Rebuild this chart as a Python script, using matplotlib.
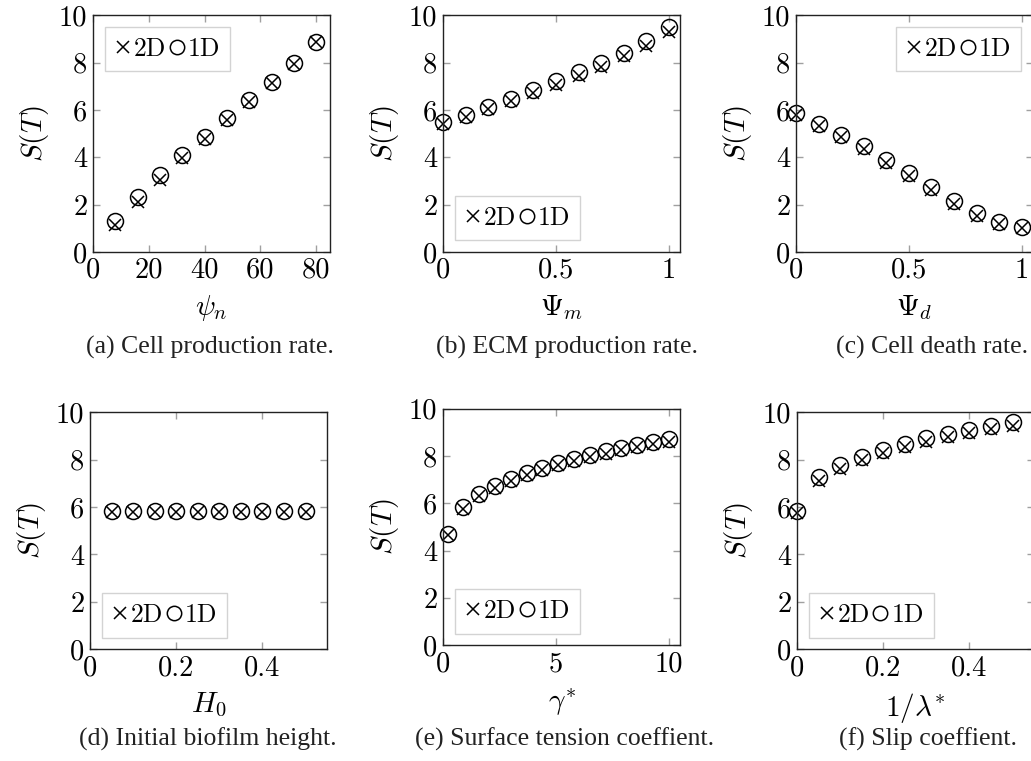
import numpy as np
import matplotlib
matplotlib.use("Agg")
import matplotlib.pyplot as plt

plt.rcParams["font.family"] = "cmr10"
plt.rcParams["mathtext.fontset"] = "cm"
plt.rcParams["axes.formatter.use_mathtext"] = True

# (a) cell production rate
psi_n = [8, 16, 24, 32, 40, 48, 56, 64, 72, 80]
a_1d = [1.29, 2.30, 3.23, 4.10, 4.87, 5.65, 6.42, 7.17, 7.98, 8.85]
a_2d = [1.12, 2.10, 3.05, 3.97, 4.77, 5.56, 6.35, 7.12, 7.96, 8.86]

# (b) ECM production rate
psi_m = [0, 0.1, 0.2, 0.3, 0.4, 0.5, 0.6, 0.7, 0.8, 0.9, 1.0]
b_1d = [5.48, 5.78, 6.13, 6.48, 6.83, 7.20, 7.58, 7.98, 8.40, 8.90, 9.50]
b_2d = [5.40, 5.68, 6.02, 6.36, 6.71, 7.07, 7.44, 7.83, 8.26, 8.72, 9.28]

# (c) cell death rate
psi_d = [0, 0.1, 0.2, 0.3, 0.4, 0.5, 0.6, 0.7, 0.8, 0.9, 1.0]
c_1d = [5.87, 5.42, 4.96, 4.47, 3.88, 3.32, 2.73, 2.17, 1.64, 1.26, 1.04]
c_2d = [5.78, 5.30, 4.86, 4.35, 3.76, 3.20, 2.60, 2.04, 1.52, 1.18, 1.02]

# (d) initial biofilm height
h0 = [0.05, 0.10, 0.15, 0.20, 0.25, 0.30, 0.35, 0.40, 0.45, 0.50]
d_1d = [5.82, 5.82, 5.82, 5.82, 5.82, 5.82, 5.82, 5.82, 5.82, 5.82]
d_2d = [5.78, 5.78, 5.78, 5.78, 5.78, 5.78, 5.78, 5.78, 5.78, 5.78]

# (e) surface tension coefficient
gamma = [0.2, 0.9, 1.6, 2.3, 3.0, 3.7, 4.4, 5.1, 5.8, 6.5, 7.2, 7.9, 8.6, 9.3, 10.0]
e_1d = [4.70, 5.83, 6.40, 6.75, 7.03, 7.28, 7.50, 7.71, 7.89, 8.06, 8.20, 8.35, 8.46, 8.59, 8.70]
e_2d = [4.65, 5.75, 6.30, 6.65, 6.93, 7.18, 7.40, 7.61, 7.79, 7.96, 8.10, 8.25, 8.36, 8.49, 8.58]

# (f) slip coefficient
inv_lambda = [0, 0.05, 0.10, 0.15, 0.20, 0.25, 0.30, 0.35, 0.40, 0.45, 0.50]
f_1d = [5.85, 7.27, 7.76, 8.12, 8.40, 8.68, 8.90, 9.11, 9.28, 9.43, 9.58]
f_2d = [5.75, 7.12, 7.62, 7.98, 8.27, 8.54, 8.76, 8.97, 9.14, 9.30, 9.44]

W, H = 1031, 761

panels = [
    dict(x=psi_n, y1=a_1d, y2=a_2d, xlabel=r"$\psi_n$", xlim=(0, 85), xticks=[0, 20, 40, 60, 80],
         xtl=["0", "20", "40", "60", "80"], leg="upper left",
         cap="(a) Cell production rate.", pos=[0.0902, 0.669, 0.230, 0.311], capxy=(210, 347)),
    dict(x=psi_m, y1=b_1d, y2=b_2d, xlabel=r"$\Psi_m$", xlim=(0, 1.05), xticks=[0, 0.5, 1],
         xtl=["0", "0.5", "1"], leg="lower left",
         cap="(b) ECM production rate.", pos=[0.4297, 0.669, 0.230, 0.311], capxy=(567, 347)),
    dict(x=psi_d, y1=c_1d, y2=c_2d, xlabel=r"$\Psi_d$", xlim=(0, 1.05), xticks=[0, 0.5, 1],
         xtl=["0", "0.5", "1"], leg="upper right",
         cap="(c) Cell death rate.", pos=[0.772, 0.669, 0.230, 0.311], capxy=(932, 347)),
    dict(x=h0, y1=d_1d, y2=d_2d, xlabel=r"$H_0$", xlim=(0, 0.55), xticks=[0, 0.2, 0.4],
         xtl=["0", "0.2", "0.4"], leg="lower left",
         cap="(d) Initial biofilm height.", pos=[0.0873, 0.147, 0.230, 0.311], capxy=(208, 739)),
    dict(x=gamma, y1=e_1d, y2=e_2d, xlabel=r"$\gamma^{*}$", xlim=(0, 10.5), xticks=[0, 5, 10],
         xtl=["0", "5", "10"], leg="lower left",
         cap="(e) Surface tension coeffient.", pos=[0.4297, 0.152, 0.230, 0.311], capxy=(565, 739)),
    dict(x=inv_lambda, y1=f_1d, y2=f_2d, xlabel=r"$1/\lambda^{*}$", xlim=(0, 0.55), xticks=[0, 0.2, 0.4],
         xtl=["0", "0.2", "0.4"], leg="lower left",
         cap="(f) Slip coeffient.", pos=[0.773, 0.147, 0.230, 0.311], capxy=(928, 739)),
]

fig = plt.figure(figsize=(W / 100, H / 100), dpi=100)

for p in panels:
    ax = fig.add_axes(p["pos"])
    ax.plot(p["x"], p["y2"], linestyle="none", marker="x", color="black",
            markersize=9, markeredgewidth=1.1, label="2D", clip_on=False)
    ax.plot(p["x"], p["y1"], linestyle="none", marker="o", markerfacecolor="none",
            markeredgecolor="black", markersize=11.5, markeredgewidth=1.1, label="1D", clip_on=False)
    ax.set_xlim(*p["xlim"])
    ax.set_ylim(0, 10)
    ax.set_xticks(p["xticks"])
    ax.set_xticklabels(p["xtl"])
    ax.set_yticks([0, 2, 4, 6, 8, 10])
    ax.set_yticklabels(["0", "2", "4", "6", "8", "10"])
    ax.tick_params(direction="in", length=5, width=1, color="#a0a0a0",
                   top=True, right=True, labelsize=20.5, pad=4)
    for s in ax.spines.values():
        s.set_linewidth(1.0)
        s.set_color("#222222")
    ax.set_xlabel(p["xlabel"], fontsize=21, labelpad=7)
    ax.set_ylabel(r"$S(T)$", fontsize=21, labelpad=6)
    leg = ax.legend(loc=p["leg"], ncol=2, fontsize=18.5, frameon=True, fancybox=False,
                    handlelength=0.6, handletextpad=0.12, columnspacing=0.12,
                    borderpad=0.4, borderaxespad=0.45, markerscale=0.9)
    leg.get_frame().set_edgecolor("#c8c8c8")
    leg.get_frame().set_linewidth(1.0)
    cx, cy = p["capxy"]
    fig.text(cx / W, 1 - cy / H, p["cap"], ha="center", va="center",
             fontsize=18.5, family="Liberation Serif", color="#222222")

fig.savefig("out.png", dpi=100)
